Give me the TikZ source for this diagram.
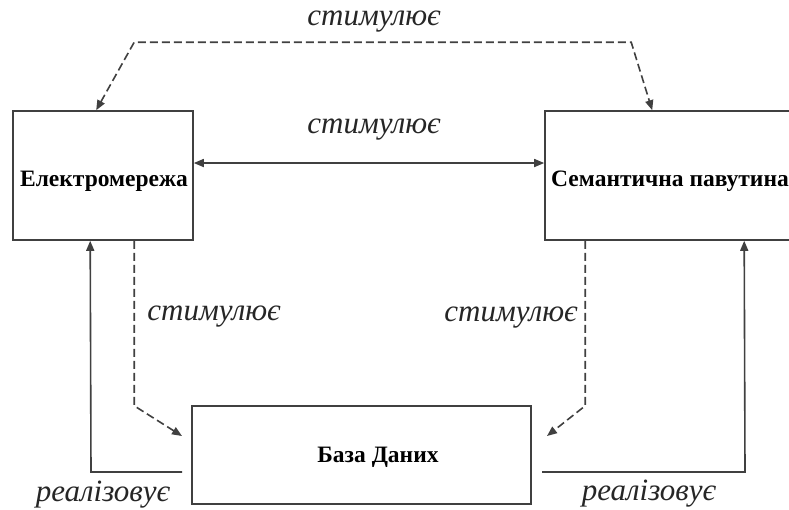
\documentclass[tikz,border=0pt]{standalone}
\usepackage{fontspec}
\setmainfont{Liberation Serif}
\usetikzlibrary{arrows.meta,calc}
\begin{document}
\begin{tikzpicture}[x=1pt,y=-1pt,
  box/.style={draw=black!75,line width=1.6pt,minimum width=#1,inner sep=0pt},
  boxtext/.style={font=\fontsize{23.5}{26}\selectfont\bfseries,text=black,inner sep=0pt},
  rel/.style={font=\fontsize{31}{34}\selectfont\itshape,text=black!85,inner sep=0pt},
  link/.style={draw=black!75,line width=1.6pt,-{Triangle[length=10pt,width=8pt]}},
  linkboth/.style={link,{Triangle[length=10pt,width=8pt]}-{Triangle[length=10pt,width=8pt]}},
  stim/.style={dash pattern=on 8pt off 4pt}]
  \clip (0,0) rectangle (789,509);
  \fill[white] (0,0) rectangle (789,509);

  % three entities
  \node[box=180pt,minimum height=129pt] (el) at (103,175.5) {};
  \node[box=255pt,minimum height=129pt] (sp) at (672.5,175.5) {};
  \node[box=339pt,minimum height=98pt] (db) at (361.5,455) {};
  \node[boxtext] (elt) at (104,181) {Електромережа};
  \node[boxtext,anchor=west] (spt) at (551,181) {Семантична павутина};
  \node[boxtext] (dbt) at (378,457) {База Даних};

  % mutual stimulation across the top
  \coordinate (tl) at ($(el.north west)+(122,-68)$);
  \coordinate (tr) at ($(sp.north west)+(87,-68)$);
  \draw[linkboth,stim] ($(el.north west)+(84,0)$) -- (tl) -- (tr) -- ($(sp.north west)+(108,0)$);
  \draw[linkboth] ($(el.east)+(0,-12.5)$) -- ($(sp.west)+(0,-12.5)$);

  % stimulation of the database
  \coordinate (la) at (182,436);
  \coordinate (ra) at (547,436);
  \draw[link,stim] ($(el.south west)+(122,0)$) -- ($(el.south west)+(122,165)$) -- (la);
  \draw[link,stim] ($(sp.south west)+(41,0)$) -- ($(sp.south west)+(41,165)$) -- (ra);

  % realisation links
  \coordinate (lr) at (182,472);
  \coordinate (rr) at (542,472);
  \draw[link] (lr) -- (91,472) -- ($(el.south west)+(78,0)$);
  \draw[link] (rr) -- (745,472) -- ($(sp.south west)+(200,0)$);

  % relation labels
  \node[rel] (l1) at (374,22) {стимулює};
  \node[rel] (l2) at (374,130) {стимулює};
  \node[rel] (l3) at (214,317) {стимулює};
  \node[rel] (l4) at (511,318) {стимулює};
  \node[rel] (l5) at (103,495) {реалізовує};
  \node[rel] (l6) at (649,494) {реалізовує};
\end{tikzpicture}
\end{document}
